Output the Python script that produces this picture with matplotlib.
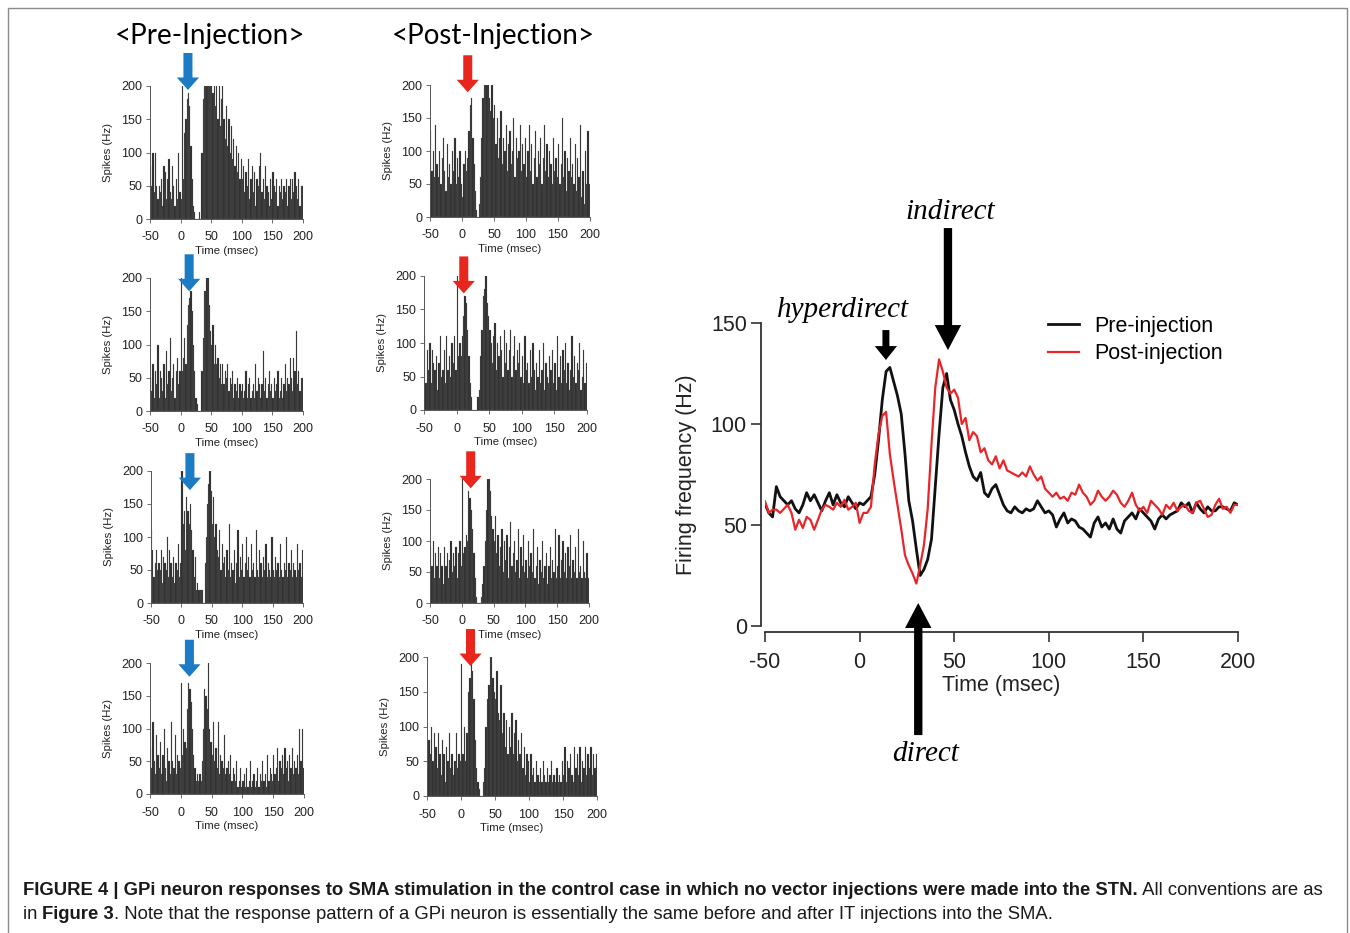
import numpy as np
import matplotlib
matplotlib.use('Agg')
import matplotlib.pyplot as plt
from matplotlib.patches import Rectangle

plt.rcParams['font.family'] = ['Liberation Sans', 'DejaVu Sans']
plt.rcParams['axes.unicode_minus'] = False

W, H = 1350, 933

# ---------------- data ----------------
# PSTH bins: 2 ms, left edges -50 ... 198
bin_left = np.arange(-50, 200, 2)
# population average, sampled every 2 ms from -50 to 200
t_line = np.arange(-50, 201, 2)

pre1 = [80, 50, 100, 40, 100, 50, 30, 50, 40, 60, 20, 80, 70, 30, 60, 90, 40, 30, 80, 50, 20, 60, 30, 100, 40,
        30, 200, 60, 130, 150, 180, 190, 170, 110, 60, 20, 10, 0, 0, 0, 10, 0, 100, 180, 200, 200, 200, 200, 200, 200,
        200, 190, 200, 170, 200, 150, 200, 140, 180, 200, 150, 120, 170, 110, 150, 100, 140, 90, 120, 80, 110, 70, 100, 60, 90,
        60, 80, 40, 70, 50, 90, 30, 60, 80, 40, 70, 20, 60, 50, 80, 100, 40, 60, 30, 80, 50, 40, 20, 60, 30,
        70, 50, 40, 60, 20, 50, 40, 60, 30, 50, 40, 60, 20, 50, 60, 30, 60, 40, 70, 50, 30, 60, 20, 50, 50]
pre2 = [50, 30, 70, 20, 60, 40, 100, 20, 60, 50, 30, 70, 20, 90, 40, 60, 110, 30, 50, 70, 20, 60, 80, 40, 60,
        200, 60, 80, 110, 70, 130, 160, 170, 180, 150, 100, 60, 20, 10, 0, 0, 0, 60, 110, 180, 180, 200, 200, 160, 120,
        100, 130, 70, 100, 70, 80, 50, 70, 40, 70, 40, 60, 50, 70, 30, 50, 40, 60, 20, 40, 30, 50, 20, 40, 30,
        40, 20, 30, 60, 20, 40, 50, 20, 30, 40, 20, 70, 30, 50, 40, 20, 40, 90, 30, 50, 20, 40, 60, 30, 40,
        20, 50, 30, 40, 60, 20, 30, 50, 20, 40, 70, 30, 50, 40, 80, 50, 30, 80, 60, 120, 40, 60, 30, 50, 50]
pre3 = [110, 80, 40, 60, 80, 50, 60, 50, 80, 30, 70, 60, 50, 100, 40, 80, 60, 40, 70, 30, 60, 50, 90, 40, 60,
        200, 120, 140, 80, 160, 140, 120, 150, 110, 80, 40, 70, 20, 30, 20, 20, 20, 20, 0, 60, 100, 150, 180, 200, 170,
        120, 160, 100, 120, 80, 70, 110, 50, 90, 60, 70, 40, 80, 50, 120, 40, 60, 50, 80, 30, 60, 110, 40, 70, 50,
        90, 40, 60, 100, 50, 70, 40, 90, 50, 60, 40, 110, 50, 40, 80, 60, 40, 70, 50, 90, 40, 60, 50, 40, 100,
        50, 40, 70, 50, 60, 40, 90, 50, 40, 60, 50, 100, 40, 60, 50, 80, 40, 60, 50, 40, 90, 50, 60, 40, 80]
pre4 = [70, 40, 110, 50, 30, 90, 60, 40, 80, 30, 60, 100, 40, 20, 70, 50, 30, 110, 50, 40, 90, 30, 60, 50, 40,
        170, 60, 100, 80, 70, 130, 170, 160, 140, 100, 60, 40, 20, 30, 20, 30, 20, 50, 100, 160, 150, 130, 200, 100, 80,
        60, 110, 50, 70, 40, 110, 30, 60, 50, 40, 90, 30, 40, 50, 30, 60, 20, 40, 30, 20, 50, 10, 20, 40, 10,
        20, 30, 10, 40, 10, 20, 50, 10, 20, 30, 10, 20, 40, 10, 30, 20, 50, 20, 30, 10, 60, 20, 40, 30, 20,
        60, 30, 40, 70, 20, 50, 40, 60, 30, 70, 40, 50, 20, 60, 40, 70, 30, 50, 40, 60, 30, 100, 50, 100, 40]

post1 = [130, 70, 100, 60, 140, 80, 60, 100, 50, 90, 120, 70, 40, 110, 60, 80, 50, 100, 70, 120, 50, 90, 60, 100, 50,
         30, 80, 100, 70, 90, 130, 170, 180, 120, 80, 40, 10, 0, 20, 60, 120, 180, 200, 200, 200, 200, 180, 160, 200, 150,
         170, 110, 150, 90, 120, 160, 80, 120, 100, 140, 70, 110, 130, 80, 100, 150, 60, 120, 90, 100, 140, 70, 110, 80, 120,
         60, 100, 140, 70, 110, 50, 90, 130, 60, 100, 80, 120, 50, 90, 140, 70, 110, 60, 100, 80, 50, 120, 70, 90, 60,
         110, 50, 80, 150, 60, 100, 40, 90, 70, 120, 60, 80, 50, 110, 40, 90, 60, 140, 30, 70, 20, 100, 50, 130, 50]
post2 = [110, 40, 90, 60, 100, 40, 90, 70, 60, 80, 30, 70, 110, 50, 60, 90, 40, 110, 60, 80, 50, 100, 70, 110, 60,
         200, 80, 100, 80, 110, 140, 170, 160, 120, 80, 40, 20, 0, 0, 0, 0, 20, 30, 80, 120, 170, 180, 200, 160, 140,
         120, 100, 70, 110, 130, 60, 100, 80, 110, 90, 50, 120, 70, 100, 60, 90, 120, 50, 80, 110, 60, 90, 70, 100, 50,
         80, 40, 110, 60, 70, 40, 90, 50, 100, 60, 30, 70, 50, 90, 40, 60, 100, 30, 70, 50, 40, 80, 60, 90, 40,
         70, 30, 110, 50, 80, 40, 90, 60, 100, 40, 70, 30, 60, 110, 50, 80, 40, 70, 60, 100, 30, 50, 90, 40, 70]
post3 = [90, 60, 100, 40, 80, 60, 90, 40, 80, 60, 30, 90, 60, 80, 40, 70, 100, 50, 80, 60, 90, 40, 80, 100, 60,
         200, 80, 90, 110, 100, 180, 170, 150, 120, 80, 40, 10, 0, 0, 0, 10, 30, 60, 100, 150, 200, 200, 180, 140, 120,
         100, 140, 80, 110, 60, 90, 120, 50, 100, 70, 110, 40, 90, 130, 60, 80, 100, 50, 70, 120, 40, 90, 60, 110, 50,
         70, 40, 100, 60, 80, 50, 120, 40, 60, 90, 30, 70, 50, 100, 40, 60, 80, 30, 60, 90, 40, 70, 50, 120, 40,
         60, 110, 40, 70, 100, 50, 80, 40, 90, 60, 110, 40, 70, 50, 90, 40, 120, 50, 60, 40, 100, 50, 40, 80, 40]
post4 = [40, 80, 60, 100, 50, 90, 70, 40, 90, 60, 30, 80, 60, 20, 70, 50, 90, 40, 60, 30, 50, 90, 40, 60, 50,
         190, 60, 100, 50, 90, 150, 170, 190, 180, 140, 80, 40, 20, 10, 0, 0, 20, 40, 100, 140, 160, 200, 200, 170, 150,
         140, 180, 120, 110, 160, 90, 120, 70, 110, 60, 100, 70, 120, 60, 90, 110, 50, 80, 60, 90, 40, 70, 30, 60, 50,
         20, 60, 30, 40, 20, 50, 30, 20, 40, 20, 50, 30, 20, 40, 20, 30, 50, 20, 30, 20, 40, 20, 30, 20, 50,
         30, 70, 20, 50, 40, 60, 30, 20, 70, 40, 60, 30, 70, 20, 50, 40, 70, 30, 60, 40, 70, 30, 60, 40, 60]

pre_line = [60.5, 56, 54, 69, 64, 62, 60, 62, 58, 56, 60, 66, 62, 65, 61, 57, 62, 66, 60, 65, 61, 59, 64, 61, 58,
            61, 60, 62, 64, 75, 92, 112, 126, 128, 121, 114, 105, 85, 62, 52, 38, 25, 28, 33, 43, 69, 95, 118, 125, 112,
            107, 100, 94, 86, 79, 74, 72, 76, 66, 64, 68, 70, 65, 60, 57, 56, 59, 57, 56, 58, 57, 58, 62, 59, 56, 57,
            55, 49, 53, 56, 51, 53, 52, 49, 48, 46, 44, 51, 54, 49, 51, 48, 53, 48, 46, 52, 54, 56, 53, 58, 56,
            54, 52, 48, 53, 55, 53, 55, 56, 57, 61, 59, 61, 56, 61, 58, 56, 59, 57, 57, 59, 59, 58, 57, 61, 60]
post_line = [61.7, 56, 57.6, 57.6, 56, 58, 60, 56, 47.7, 52.6, 48.5, 54, 52.6, 47.7, 52.6, 57.6, 60, 59, 57.6, 61, 59, 62.5, 57.6, 59, 61,
             51, 56, 56, 59, 80, 95, 104, 106, 85, 72, 60, 48, 35, 30, 26, 21, 30, 40, 58, 90, 118, 132, 126, 118, 115,
             117, 113, 100, 103, 92, 96, 94, 86, 88, 82, 80, 84, 78, 82, 77, 76, 75, 74, 76, 74, 79, 75, 72, 74, 68, 66,
             64, 66, 63, 64, 62, 66, 65, 70, 66, 64, 60, 62, 67, 64, 62, 64, 67, 65, 61, 59, 62, 66, 60, 57, 59,
             56, 62, 60, 58, 55, 60, 58, 61, 57, 59, 60, 57, 56, 61, 62, 58, 54, 55, 60, 63, 58, 59, 56, 60, 60]

pre_hists = [pre1, pre2, pre3, pre4]
post_hists = [post1, post2, post3, post4]
# arrow tips (time, rate) marking the hyperdirect peak
pre_tips = [(12, 194), (14, 180), (14, 171), (14, 179)]
post_tips = [(9, 189), (11, 174), (14, 185), (14, 187)]

BLUE = '#1b7bc4'
RED = '#e8261e'

fig = plt.figure(figsize=(W / 100, H / 100), dpi=100)


def px_axes(x0, x1, ytop, ybot):
    return fig.add_axes([x0 / W, 1 - ybot / H, (x1 - x0) / W, (ybot - ytop) / H])


def hist_panel(ax, counts, tip, color):
    ax.bar(bin_left, counts, width=2, align='edge', color='#2b2b2b',
           edgecolor='#6e6e6e', linewidth=0.15)
    ax.set_xlim(-50, 200)
    ax.set_ylim(0, 200)
    ax.set_xticks([-50, 0, 50, 100, 150, 200])
    ax.set_yticks([0, 50, 100, 150, 200])
    for s in ['top', 'right']:
        ax.spines[s].set_visible(False)
    for s in ['left', 'bottom']:
        ax.spines[s].set_color('#555555')
        ax.spines[s].set_linewidth(0.7)
    ax.tick_params(length=3, width=0.6, color='#555555', labelsize=9,
                   labelcolor='#222222', pad=2.5)
    ax.tick_params(axis='x', pad=6)
    ax.set_xlabel('Time (msec)', fontsize=8.2, labelpad=2, color='#222222')
    ax.set_ylabel('Spikes (Hz)', fontsize=8.2, labelpad=6, color='#222222')
    ax.annotate('', xy=tip, xycoords='data', xytext=(0, 37), textcoords='offset pixels',
                arrowprops=dict(arrowstyle='simple,head_width=1.6,head_length=0.9,tail_width=0.65',
                                mutation_scale=10, fc=color, ec='none', shrinkA=0, shrinkB=0),
                annotation_clip=False)


pre_boxes = [(150, 303, 86, 219), (150, 303, 278, 411), (151, 303, 471, 603), (150, 304, 663, 794)]
post_boxes = [(430, 590, 85, 217), (424, 587, 276, 410), (430, 589, 479, 603), (427, 597, 657, 796)]

for box, h, tip in zip(pre_boxes, pre_hists, pre_tips):
    hist_panel(px_axes(*box), h, tip, BLUE)
for box, h, tip in zip(post_boxes, post_hists, post_tips):
    hist_panel(px_axes(*box), h, tip, RED)

fig.text(210 / W, 1 - 36 / H, '<Pre-Injection>', ha='center', va='center',
         fontsize=20, family=['Lato', 'DejaVu Sans'])
fig.text(493 / W, 1 - 36 / H, '<Post-Injection>', ha='center', va='center',
         fontsize=20, family=['Lato', 'DejaVu Sans'])

# ---------------- average response ----------------
axr = px_axes(765, 1238, 323, 626)
axr.plot(t_line, pre_line, color='#111111', lw=2.0, label='Pre-injection')
axr.plot(t_line, post_line, color='#e8262a', lw=1.6, label='Post-injection')
axr.set_xlim(-50, 200)
axr.set_ylim(0, 150)
axr.set_xticks([-50, 0, 50, 100, 150, 200])
axr.set_yticks([0, 50, 100, 150])
for s in ['top', 'right']:
    axr.spines[s].set_visible(False)
axr.spines['left'].set_position(('outward', 3))
axr.spines['bottom'].set_position(('outward', 4))
for s in ['left', 'bottom']:
    axr.spines[s].set_linewidth(1.3)
    axr.spines[s].set_color('#333333')
axr.tick_params(length=7, width=1.2, color='#333333', labelsize=15.5, labelcolor='#222222', pad=3)
axr.tick_params(axis='x', pad=8)
axr.set_xlabel('Time (msec)', fontsize=15.5, labelpad=1, color='#222222')
axr.set_ylabel('Firing frequency (Hz)', fontsize=15.5, labelpad=10, color='#222222')
axr.legend(frameon=False, fontsize=15.5, loc='upper left',
           bbox_to_anchor=((1048 - 765) / 473, (626 - 316) / 303),
           borderaxespad=0, borderpad=0, handlelength=1.45, handletextpad=0.7,
           labelspacing=0.3)

big = dict(arrowstyle='simple,head_width=1.9,head_length=1.8,tail_width=0.6',
           mutation_scale=10, fc='black', ec='none', shrinkA=0, shrinkB=0)
small = dict(arrowstyle='simple,head_width=1.6,head_length=1.0,tail_width=0.5',
             mutation_scale=10, fc='black', ec='none', shrinkA=0, shrinkB=0)
axr.annotate('', xy=(46.7, 136.6), xytext=(46.7, 197), arrowprops=big, annotation_clip=False)
axr.annotate('', xy=(31.0, 11.4), xytext=(31.0, -54), arrowprops=big, annotation_clip=False)
axr.annotate('', xy=(13.9, 131.7), xytext=(13.9, 146.5), arrowprops=small, annotation_clip=False)

serif = dict(family=['Liberation Serif', 'DejaVu Serif'], style='italic', fontsize=21,
             ha='center', va='center', clip_on=False)
axr.text(47.8, 205.0, 'indirect', **serif)
axr.text(-8.8, 156.5, 'hyperdirect', **serif)
axr.text(34.6, -63.4, 'direct', **serif)

# ---------------- frame and caption ----------------
fig.add_artist(Rectangle((8 / W, -0.01), (1347 - 8) / W, 1.01 - 8 / H, transform=fig.transFigure,
                         fill=False, ec='#8a8a8a', lw=1))

cap_font = ['Liberation Sans', 'DejaVu Sans']
renderer = fig.canvas.get_renderer()


def caption_line(parts, x_px, y_px):
    x = x_px
    for txt, weight in parts:
        t = fig.text(x / W, 1 - y_px / H, txt, fontsize=13.35, fontweight=weight,
                     family=cap_font, va='baseline', ha='left', color='#1a1a1a')
        bb = t.get_window_extent(renderer)
        x = bb.x1


caption_line([('FIGURE 4 | GPi neuron responses to SMA stimulation in the control case in which no '
               'vector injections were made into the STN.', 'bold'),
              (' All conventions are as', 'normal')], 23, 895)
caption_line([('in ', 'normal'), ('Figure 3', 'bold'),
              ('. Note that the response pattern of a GPi neuron is essentially the same before and '
               'after IT injections into the SMA.', 'normal')], 23, 919)

fig.savefig('out.png', dpi=100)
